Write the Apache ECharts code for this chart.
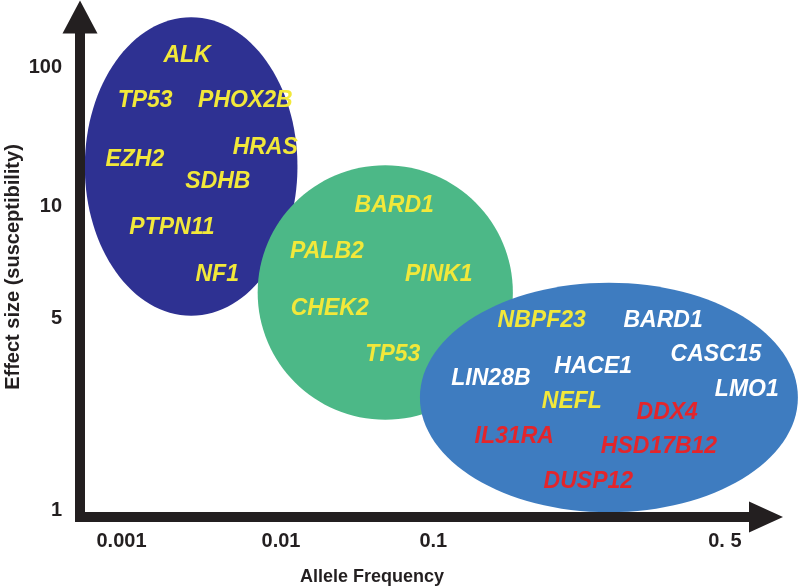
<!DOCTYPE html>
<html>
<head>
<meta charset="utf-8">
<script src="https://cdn.jsdelivr.net/npm/echarts@6/dist/echarts.min.js"></script>
<style>
    html, body { margin: 0; padding: 0; background: #fff; }
    #chart { width: 800px; height: 587px; }
</style>
</head>
<body>
<div id="chart"></div>
<script>
// ejes conceptuales (posiciones en unidades 0-100 del dibujo)
var xTickValues = [6.05, 29.3, 51.5, 94.0];
var xTickLabels = ['0.001', '0.01', '0.1', '0. 5'];
var yTickValues = [1.4, 39.7, 62.1, 89.9];
var yTickLabels = ['1', '5', '10', '100'];

// grupos (elipses): centro y extension en unidades de eje
var groupNames = ['raras', 'baja frecuencia', 'comunes'];
var groupX = [16.2, 44.5, 77.1];
var groupY = [70.1, 44.9, 23.9];
var groupSpanX = [31.0, 37.2, 55.1];
var groupSpanY = [59.7, 50.9, 45.9];

// genes
var geneNames = ['ALK', 'TP53', 'PHOX2B', 'HRAS', 'EZH2', 'SDHB', 'PTPN11', 'NF1',
    'BARD1', 'PALB2', 'PINK1', 'CHEK2', 'TP53',
    'NBPF23', 'BARD1', 'CASC15', 'HACE1', 'LIN28B', 'LMO1', 'NEFL', 'DDX4', 'IL31RA', 'HSD17B12', 'DUSP12'];
var geneX = [15.6, 9.5, 24.1, 27.0, 8.0, 20.1, 13.4, 20.0,
    45.8, 36.0, 52.3, 36.4, 45.6,
    67.3, 85.0, 92.7, 74.8, 59.9, 97.2, 71.7, 85.6, 63.3, 84.4, 74.1];
var geneY = [92.2, 83.2, 83.2, 73.9, 71.5, 67.1, 57.9, 48.5,
    62.3, 53.1, 48.5, 41.7, 32.5,
    39.3, 39.3, 32.5, 30.1, 27.7, 25.5, 23.0, 20.8, 16.0, 14.0, 7.0];
var geneKind = ['y', 'y', 'y', 'y', 'y', 'y', 'y', 'y',
    'y', 'y', 'y', 'y', 'y',
    'y', 'w', 'w', 'w', 'w', 'w', 'y', 'r', 'r', 'r', 'r'];

var groupColors = ['#2e3192', '#4cb887', '#3e7cc0'];
var kindColors = { y: '#f2e83a', w: '#ffffff', r: '#e3252b' };
var fuente = '"Liberation Sans", Arial, sans-serif';
var ejeColor = '#231f20';

var chart = echarts.init(document.getElementById('chart'));

var option = {
    animation: false,
    grid: { left: 80, right: 34, top: 17, bottom: 70, containLabel: false, outerBoundsMode: 'none' },
    xAxis: {
        type: 'value', min: 0, max: 100, z: 5,
        name: 'Allele Frequency', nameLocation: 'middle', nameGap: 51,
        nameTextStyle: { color: ejeColor, fontSize: 18, fontWeight: 'bold', fontFamily: fuente, padding: [0, 102, 0, 0] },
        axisLine: {
            show: true, onZero: false,
            symbol: ['none', 'triangle'], symbolSize: [31, 34],
            lineStyle: { color: ejeColor, width: 10, cap: 'square' }
        },
        axisTick: { show: false },
        splitLine: { show: false },
        axisLabel: {
            customValues: xTickValues,
            formatter: function (v) { return xTickLabels[xTickValues.indexOf(v)]; },
            color: ejeColor, fontSize: 20, fontWeight: 'bold', fontFamily: fuente, margin: 14
        }
    },
    yAxis: {
        type: 'value', min: 0, max: 100, z: 5,
        name: 'Effect size (susceptibility)', nameLocation: 'middle', nameGap: 57,
        nameMoveOverlap: false,
        nameTextStyle: { color: ejeColor, fontSize: 20, fontWeight: 'bold', fontFamily: fuente },
        axisLine: {
            show: true, onZero: false,
            symbol: ['none', 'triangle'], symbolSize: [35, 33],
            lineStyle: { color: ejeColor, width: 10, cap: 'square' }
        },
        axisTick: { show: false },
        splitLine: { show: false },
        axisLabel: {
            customValues: yTickValues,
            formatter: function (v) { return yTickLabels[yTickValues.indexOf(v)]; },
            color: ejeColor, fontSize: 20, fontWeight: 'bold', fontFamily: fuente, margin: 18
        }
    },
    series: [
        {
            name: 'grupos',
            type: 'custom',
            z: 2,
            silent: true,
            data: groupNames.map(function (n, i) {
                return { name: n, value: [groupX[i], groupY[i], groupSpanX[i], groupSpanY[i]] };
            }),
            renderItem: function (params, api) {
                var c = api.coord([api.value(0), api.value(1)]);
                var s = api.size([api.value(2), api.value(3)]);
                return {
                    type: 'ellipse',
                    shape: { cx: c[0], cy: c[1], rx: s[0] / 2, ry: s[1] / 2 },
                    style: { fill: groupColors[params.dataIndex] }
                };
            }
        },
        {
            name: 'genes',
            type: 'scatter',
            z: 3,
            symbolSize: 0,
            clip: false,
            silent: true,
            itemStyle: { opacity: 1 },
            data: geneNames.map(function (n, i) {
                return { name: n, value: [geneX[i], geneY[i]], label: { color: kindColors[geneKind[i]] } };
            }),
            label: {
                show: true, position: 'inside', formatter: '{b}', opacity: 1,
                textBorderWidth: 0, textBorderColor: 'transparent',
                fontSize: 23, fontWeight: 'bold', fontStyle: 'italic', fontFamily: fuente
            }
        }
    ]
};

chart.setOption(option);
</script>
</body>
</html>
